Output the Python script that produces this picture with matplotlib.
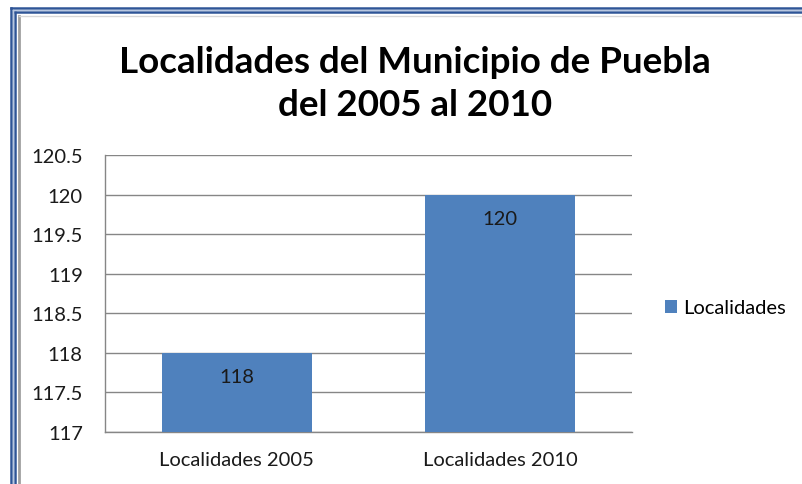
import matplotlib
matplotlib.use("Agg")
import matplotlib.pyplot as plt
from matplotlib.lines import Line2D

# Datos del grafico
categorias = ["Localidades 2005", "Localidades 2010"]
valores = [118, 120]
serie = "Localidades"
titulo = "Localidades del Municipio de Puebla\ndel 2005 al 2010"
yticks = [117, 117.5, 118, 118.5, 119, 119.5, 120, 120.5]
ytick_labels = ["117", "117.5", "118", "118.5", "119", "119.5", "120", "120.5"]

AZUL = "#4F81BD"
GRIS = "#868686"
W, H = 802, 485

plt.rcParams['font.family'] = ['Lato', 'DejaVu Sans']

fig = plt.figure(figsize=(W / 100, H / 100), dpi=100)
fig.patch.set_facecolor("white")

# area del grafico en pixeles: x 105-632, y 156-433
ax = fig.add_axes([105 / W, 1 - 433 / H, (632 - 105) / W, (433 - 156) / H])

x = list(range(len(categorias)))
bars = ax.bar(x, [v - 117 for v in valores], bottom=117, width=0.57,
              color=AZUL, label=serie, zorder=3)

for b, v in zip(bars, valores):
    ax.annotate("%d" % v, (b.get_x() + b.get_width() / 2, v),
                xytext=(0, -24), textcoords="offset pixels",
                ha="center", va="center", fontsize=14.5, color="#1a1a1a", zorder=4)

ax.set_xlim(-0.5, 1.5)
ax.set_ylim(117, 120.5)
ax.set_yticks(yticks)
ax.set_yticklabels(ytick_labels)
ax.set_xticks(x)
ax.set_xticklabels(categorias)
ax.tick_params(axis="both", length=0, labelsize=14.5, colors="#1a1a1a")
ax.tick_params(axis="y", pad=16)
ax.tick_params(axis="x", pad=14)

ax.grid(axis="y", color=GRIS, linewidth=1, zorder=0)
for s in ["top", "right"]:
    ax.spines[s].set_visible(False)
for s in ["left", "bottom"]:
    ax.spines[s].set_color(GRIS)
    ax.spines[s].set_linewidth(1)

fig.text(0.5 * (118 + 712) / W, 1 - 84 / H, titulo, ha="center", va="center",
         fontsize=26.5, fontweight="bold", linespacing=1.35, color="black")

leg = fig.legend(handles=[bars], labels=[serie], loc="center left",
                 bbox_to_anchor=(665 / W, 1 - 309 / H), frameon=False,
                 fontsize=14.5, handlelength=0.6, handleheight=0.6,
                 handletextpad=0.3, borderaxespad=0, borderpad=0)

# marco doble azul (solo izquierda y arriba visibles)
def linea(xs, ys, color, lw):
    fig.add_artist(Line2D([v / W for v in xs], [1 - v / H for v in ys],
                          color=color, linewidth=lw, transform=fig.transFigure))

linea([10.5, 10.5], [8.5, H], "#2F5597", 1.8)
linea([10.5, W], [8.5, 8.5], "#2F5597", 1.8)
linea([14.5, 14.5], [13, H], "#2F5597", 1.8)
linea([14.5, W], [13, 13], "#2F5597", 1.8)
linea([12.5, 12.5], [10.5, H], "#B8C7E0", 1.0)
linea([12.5, W], [10.5, 10.5], "#B8C7E0", 1.0)
linea([19, 19], [17, H], "#A0A0A0", 2.0)
linea([19, W], [17, 17], "#D8D8D8", 1.0)

fig.savefig("out.png", dpi=100)
